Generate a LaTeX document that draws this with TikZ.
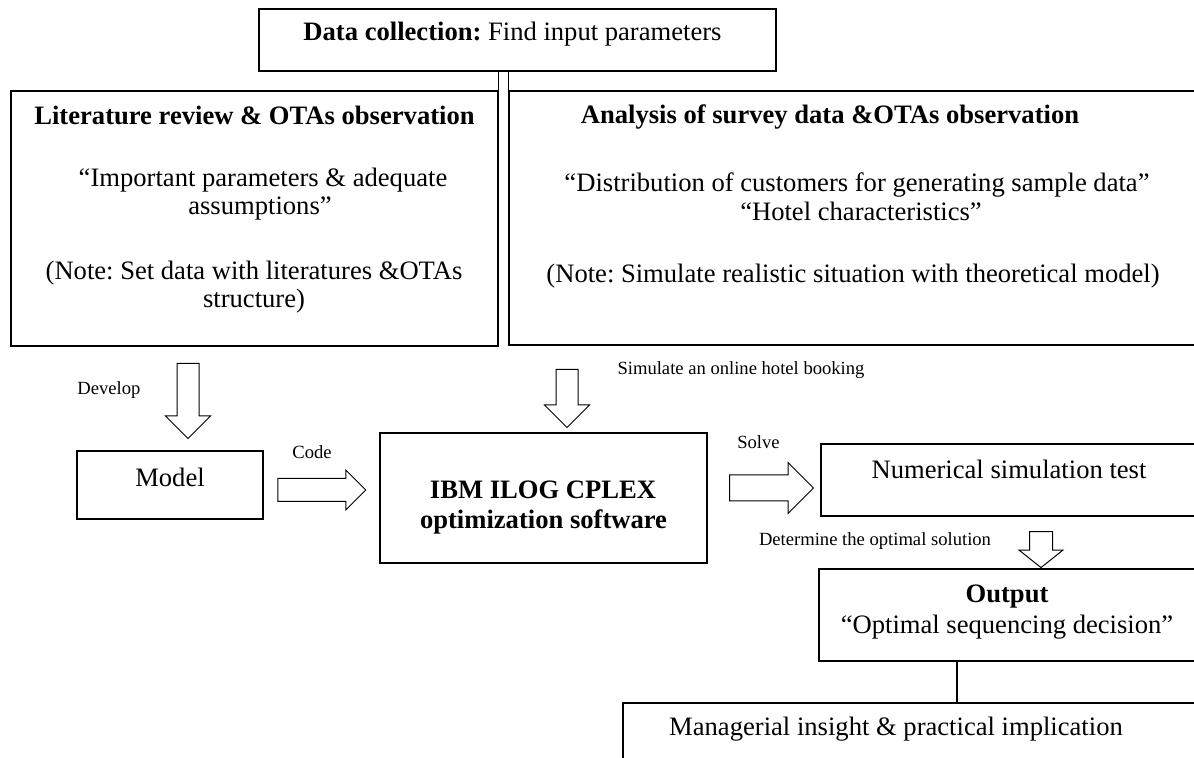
\documentclass[tikz,border=0pt]{standalone}
\usepackage{fontspec}
\setmainfont{Liberation Serif}
\usetikzlibrary{shapes.arrows}
\frenchspacing
\newcommand\mainsz{\fontsize{13.3}{16}\selectfont}
\newcommand\smallsz{\fontsize{9.3}{11}\selectfont}
\tikzset{
	box/.style={draw, line width=0.6pt, inner sep=0pt},
	txt/.style={inner sep=0pt, anchor=base, font=\mainsz},
	smalltxt/.style={inner sep=0pt, anchor=base, font=\smallsz},
	hollow/.style={draw, single arrow, line width=0.5pt, inner xsep=0pt, inner ysep=5.25pt, minimum width=22pt, single arrow head extend=5.75pt}
}
\begin{document}
\begin{tikzpicture}[x=0.5pt, y=-0.5pt]
	\clip (0,0) rectangle (1194,758);
	\node[box, minimum width=258.5pt, minimum height=31pt] (top) at (517.5,40) {};%data collection
	\node[box, minimum width=243.5pt, minimum height=127.5pt] (lit) at (254.5,218.5) {};%left box
	\node[box, minimum width=375.5pt, minimum height=127pt] (surv) at (884.5,218) {};%right box
	\draw[line width=0.6pt] (lit.north east) -- (lit.north east |- top.south);
	\draw[line width=0.6pt] (surv.north west) -- (surv.north west |- top.south);

	\node[txt] (topTxt) at (512.5,41) {\textbf{Data collection:} Find input parameters};
	\node[txt, font=\mainsz\bfseries] (litTitle) at (254.5,125) {Literature review \& OTAs observation};
	\node[txt] (litA) at (263,187) {“Important parameters \& adequate};
	\node[txt] (litB) at (260,215) {assumptions”};
	\node[txt] (litC) at (254,280) {(Note: Set data with literatures \&OTAs};
	\node[txt] (litD) at (254,308) {structure)};
	\node[txt, font=\mainsz\bfseries] (survTitle) at (830,124) {Analysis of survey data \&OTAs observation};
	\node[txt] (survA) at (857,192) {“Distribution of customers for generating sample data”};
	\node[txt] (survB) at (861,221) {“Hotel characteristics”};
	\node[txt] (survC) at (853,283) {(Note: Simulate realistic situation with theoretical model)};

	\node[box, minimum width=93pt, minimum height=34pt] (model) at (170,485) {};
	\node[txt] (modelTxt) at (170,487) {Model};
	\node[box, minimum width=163.5pt, minimum height=65pt] (cplex) at (543.5,498) {};
	\node[txt, font=\mainsz\bfseries] (cplexA) at (543,499) {IBM ILOG CPLEX};
	\node[txt, font=\mainsz\bfseries] (cplexB) at (543.5,529) {optimization software};
	\node[box, minimum width=219.5pt, minimum height=36pt] (num) at (1040.5,480) {};
	\node[txt] (numTxt) at (1009,479) {Numerical simulation test};
	\node[box, minimum width=220.5pt, minimum height=46pt] (out) at (1039.5,615) {};
	\node[txt, font=\mainsz\bfseries] (outA) at (1007,603) {Output};
	\node[txt] (outB) at (1007,633) {“Optimal sequencing decision”};
	\node[box, minimum width=318.5pt, minimum height=48.5pt] (mgr) at (941.5,751.5) {};
	\node[txt] (mgrTxt) at (896,735) {Managerial insight \& practical implication};
	\coordinate (tick) at (957,0);
	\draw[line width=0.6pt] (tick |- out.south) -- (tick |- mgr.north);

	%hollow arrows
	\node[hollow, rotate=-90, minimum height=37.5pt] (devArrow) at (188,395.5) {};
	\node[hollow, rotate=-90, minimum height=29pt] (simArrow) at (567,393) {};
	\node[hollow, minimum height=44pt, inner ysep=5.5pt, minimum width=19.5pt, single arrow head extend=4.25pt] (codeArrow) at (316,490) {};
	\node[hollow, minimum height=42pt, inner ysep=6.25pt, minimum width=25pt, single arrow head extend=6.25pt] (solveArrow) at (765,488) {};
	\node[hollow, rotate=-90, minimum height=18pt, inner ysep=5.5pt, minimum width=21.5pt, single arrow head extend=5.25pt, single arrow tip angle=103] (detArrow) at (1041,545) {};

	\node[smalltxt] (devTxt) at (109,395) {Develop};
	\node[smalltxt] (simTxt) at (741,375) {Simulate an online hotel booking};
	\node[smalltxt] (codeTxt) at (312,459) {Code};
	\node[smalltxt] (solveTxt) at (758.5,449) {Solve};
	\node[smalltxt] (detTxt) at (875,546) {Determine the optimal solution};
\end{tikzpicture}
\end{document}
